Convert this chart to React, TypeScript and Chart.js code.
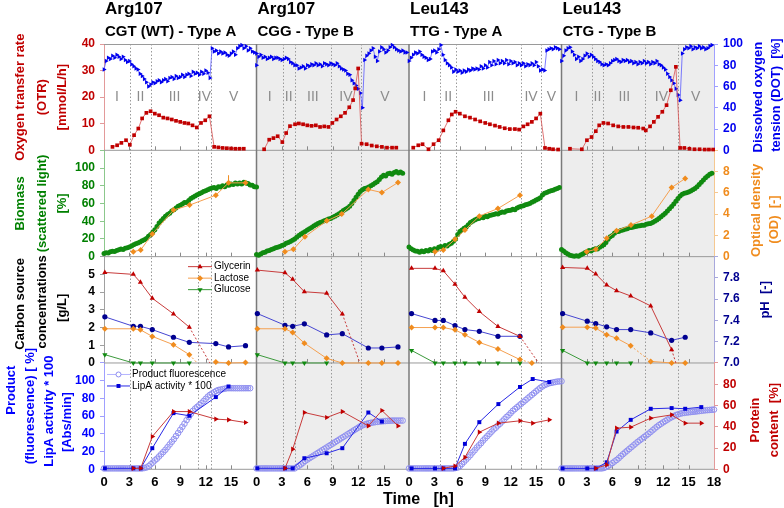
import React, { useEffect, useRef } from 'react';
import { Chart, registerables } from 'chart.js';
import { drawPoint } from 'chart.js/helpers';

Chart.register(...registerables);

type Pair = [number, number];

const FONT = 'Arial, "Liberation Sans", Helvetica, sans-serif';

/* ---------------- column headers & fermentation phases ---------------- */
const strainNames = ['Arg107', 'Arg107', 'Leu143', 'Leu143'];
const codonLabels = ['CGT (WT) - Type A', 'CGG - Type B', 'TTG - Type A', 'CTG - Type B'];
const phaseNames = ['I', 'II', 'III', 'IV', 'V'];
const phaseBounds_argCGT = [3.05, 5.55, 11.1, 12.6];
const phaseBounds_argCGG = [3.1, 4.5, 8.8, 12.3];
const phaseBounds_leuTTG = [3.65, 5.6, 13.2, 15.6];
const phaseBounds_leuCTG = [3.55, 4.95, 9.9, 13.7];
const shadedColumns = [1, 3];

/* ---------------- time axis ---------------- */
const timeMin = 0;
const timeMax = 18;
const timeStep = 3;
const innerTickTimes = [3, 6, 9, 12, 15];

/* online signals are logged every DENSE_STEP hours starting at t = 0 */
const DENSE_STEP = 0.25;

/* ---------------- Row 1: OTR [mmol/L/h] (time, value) ---------------- */
const otr_argCGT: Pair[] = [[1.0,1.3],[1.55,1.9],[2.05,2.8],[2.6,3.8],[3.05,2.1],[3.55,5.7],[4.05,8.2],[4.5,12.0],[5.0,14.1],[5.5,14.7],[6.0,13.8],[6.5,13.2],[7.0,12.3],[7.5,12.0],[8.0,11.6],[8.5,11.1],[9.0,10.7],[9.5,10.3],[9.95,10.1],[10.45,9.4],[10.95,8.6],[11.45,10.3],[11.95,11.3],[12.45,12.8],[13.0,1.3],[13.5,1.1],[14.0,0.9],[14.5,0.8],[15.0,0.7],[15.5,0.6],[16.0,0.6],[16.5,0.6]];
const otr_argCGG: Pair[] = [[0.9,0.4],[1.5,4.0],[2.0,4.6],[2.5,5.3],[3.05,3.1],[3.5,6.5],[3.95,9.1],[4.55,9.8],[5.0,10.1],[5.5,9.8],[6.0,9.4],[6.5,9.2],[7.0,9.4],[7.5,8.8],[8.0,9.0],[8.5,8.8],[8.95,10.3],[9.45,11.6],[9.95,12.8],[10.45,14.1],[10.95,16.2],[11.4,18.9],[11.65,23.3],[12.0,30.8],[12.4,2.5],[13.0,2.3],[13.6,1.8],[14.2,1.5],[14.8,1.3],[15.4,1.0],[16.0,1.0],[16.5,1.0]];
const otr_leuTTG: Pair[] = [[0.5,1.0],[1.1,1.9],[1.6,2.3],[2.3,0.4],[2.9,2.3],[3.5,3.8],[4.05,7.5],[4.65,11.3],[5.05,13.5],[5.5,14.5],[6.0,13.8],[6.6,12.8],[7.2,12.3],[7.8,11.6],[8.4,10.9],[9.0,10.3],[9.55,9.8],[10.15,9.3],[10.7,8.8],[11.3,8.3],[11.9,8.0],[12.5,8.0],[13.0,7.8],[13.5,9.0],[14.0,9.8],[14.5,10.7],[15.0,12.0],[15.5,13.8],[16.05,0.9],[16.55,0.6],[17.0,0.4],[17.6,0.3]];
const otr_leuCTG: Pair[] = [[1.0,0.6],[2.4,0.4],[3.0,3.8],[3.55,5.0],[4.05,7.2],[4.45,9.4],[4.95,10.3],[5.5,10.1],[6.1,9.4],[6.7,9.0],[7.3,8.8],[7.9,8.8],[8.5,8.6],[9.05,8.5],[9.65,8.2],[9.95,7.5],[10.45,9.0],[10.9,10.7],[11.4,12.6],[11.9,14.5],[12.4,17.0],[12.9,22.6],[13.5,31.4],[14.0,0.9],[14.5,0.9],[15.1,0.6],[15.7,0.4],[16.3,0.4],[16.9,0.3],[17.4,0.3],[17.9,0.3]];

/* ---------------- Row 1: DOT [%] (every DENSE_STEP h) ---------------- */
const dot_argCGT = [76,84,87,86,89,87,90,88,86,88,85,83,84,81,79,77,76,72,70,67,64,60,62,64,63,65,66,64,66,67,65,68,69,67,70,68,69,71,69,71,72,70,74,72,73,71,74,72,75,73,68,96,93,94,91,93,91,92,90,89,91,93,90,96,98,99,96,98,94,96,93,92,91];
const dot_argCGG = [80,88,90,87,88,86,87,88,86,87,87,86,85,86,87,86,83,82,80,80,77,78,79,77,80,79,81,80,82,80,81,79,82,81,80,82,81,80,82,79,77,76,75,72,71,66,63,61,58,54,40,85,89,91,94,96,88,84,93,97,95,92,94,97,99,97,95,94,93,94,92,92];
const dot_leuTTG = [84,87,90,92,91,93,90,88,87,85,86,93,94,92,95,99,90,85,82,80,78,74,76,74,75,73,75,74,76,75,77,76,77,76,79,77,80,78,83,80,84,81,85,82,84,82,85,81,84,82,83,80,82,80,82,79,81,80,82,80,83,79,75,76,75,94,95,96,95,97,96,95];
const dot_leuCTG = [84,89,94,96,97,93,90,86,88,84,86,89,91,88,90,88,86,84,83,81,80,81,80,82,84,85,86,84,83,85,84,85,83,84,82,83,81,83,82,84,82,83,81,83,82,84,81,80,78,76,72,69,66,63,58,52,47,91,95,97,96,98,95,97,96,98,96,97,95,96,98,99];

/* ---------------- Row 2: biomass / scattered light [%] (every DENSE_STEP h) ---------------- */
const biomass_argCGT = [3.5,4.5,4.0,5.5,6.0,5.8,7.0,7.8,8.5,8.2,9.5,10.0,11.0,12.0,13.5,14.5,15.5,16.5,18.0,19.0,20.5,23.0,25.0,27.5,30.5,34.0,38.0,40.5,43.0,45.5,47.5,49.0,51.5,53.0,55.0,57.0,58.0,59.5,61.0,61.0,63.5,65.5,67.0,68.5,70.0,71.0,72.0,73.5,74.5,75.5,76.5,77.5,78.0,77.0,79.0,78.5,80.0,79.0,81.0,80.5,82.0,81.5,83.0,82.0,83.0,82.0,84.0,83.0,82.5,81.0,80.5,79.0,78.5];
const biomass_argCGG = [2.5,1.5,3.0,4.5,5.0,6.5,7.0,8.0,9.0,10.0,10.5,11.5,12.5,13.5,15.0,16.0,17.0,18.5,20.0,22.0,24.0,25.5,27.0,28.5,30.0,31.5,33.0,34.5,36.0,37.5,38.5,39.5,40.5,41.5,42.5,43.0,44.5,45.5,47.0,48.5,50.0,52.0,53.5,55.0,57.0,60.0,63.5,67.0,70.5,73.5,75.5,77.0,77.5,78.5,80.0,81.5,83.0,84.5,87.0,90.0,92.0,91.0,93.5,94.0,93.0,95.0,96.0,94.5,95.5,94.0];
const biomass_leuTTG = [11.0,9.0,7.5,6.5,6.0,5.0,6.5,5.5,7.0,6.5,8.0,7.0,9.0,8.0,10.5,11.5,10.5,12.5,12.0,14.0,15.0,17.5,20.0,25.0,28.5,30.0,32.0,33.5,36.0,38.5,40.0,41.5,42.5,43.0,44.5,44.0,45.5,45.0,46.5,47.0,47.5,48.5,48.0,49.5,50.5,50.0,51.5,52.0,52.5,53.5,53.0,55.0,56.0,57.0,57.5,58.5,59.0,60.0,61.5,62.5,64.0,65.0,66.5,69.5,71.5,72.5,73.5,74.5,75.0,76.0,77.0,78.0];
const biomass_leuCTG = [8.0,6.5,4.5,3.0,1.5,1.0,0.5,1.0,0.5,2.0,3.0,4.5,5.5,7.0,6.5,8.0,9.0,8.5,10.5,12.0,13.5,16.0,19.5,22.5,24.0,26.5,28.0,28.5,29.5,30.0,31.0,31.5,32.5,33.0,33.5,34.0,34.5,35.0,35.5,35.5,36.5,37.0,37.5,38.5,40.0,41.5,43.0,45.0,47.0,49.0,51.5,54.0,56.5,59.5,62.5,65.5,68.5,70.5,71.5,72.0,73.0,74.0,75.5,77.0,79.0,81.5,84.0,86.5,89.0,91.0,93.0,94.0];

/* ---------------- Row 2: optical density [-] (time, value) ---------------- */
const od_argCGT: Pair[] = [[3.46,0.47],[4.33,0.63],[5.7,2.13],[8.2,4.38],[10.1,4.85],[13.2,5.78],[14.7,6.94],[16.7,6.94]];
const odErr_argCGT: Pair[] = [[14.7,6.94],[14.7,7.66]];
const od_argCGG: Pair[] = [[3.36,0.47],[4.35,0.69],[5.72,1.88],[8.3,3.37],[10.06,4.0],[13.2,6.32],[14.8,6.03],[16.7,6.97]];
const od_leuTTG: Pair[] = [[3.07,0.47],[4.05,0.63],[5.43,1.63],[6.6,2.5],[8.3,3.81],[10.5,4.53],[13.1,5.78]];
const od_leuCTG: Pair[] = [[2.97,0.47],[4.04,0.69],[5.33,1.72],[6.5,2.44],[8.2,2.97],[10.65,3.81],[13.0,6.5],[14.6,7.35]];

/* ---------------- Row 3: carbon sources [g/L] and pH (time, value) ---------------- */
const glycerin_argCGT: Pair[] = [[0.1,5.11],[3.46,5.0],[4.3,4.55],[5.7,3.65],[8.2,2.77],[10.07,2.02]];
const glycerinTail_argCGT: Pair[] = [[10.07,2.02],[12.5,0]];
const lactose_argCGT: Pair[] = [[0.1,1.93],[3.46,1.93],[4.3,1.87],[5.7,1.5],[8.2,1.03],[10.07,0.47]];
const lactoseTail_argCGT: Pair[] = [[10.07,0.47],[11.0,0]];
const lactoseLate_argCGT: Pair[] = [[13.2,0.05],[14.7,0],[16.7,0.02]];
const glucose_argCGT: Pair[] = [[0.1,0.47],[3.46,0],[4.3,0],[5.7,0],[8.2,0],[10.07,0]];
const pH_argCGT: Pair[] = [[0.1,7.434],[3.46,7.345],[4.3,7.345],[5.7,7.314],[8.2,7.242],[10.07,7.194],[13.2,7.182],[14.7,7.151],[16.7,7.163]];

const glycerin_argCGG: Pair[] = [[0.1,5.24],[3.36,5.09],[4.27,4.72],[5.65,4.02],[8.28,3.93],[10.13,2.77]];
const glycerinTail_argCGG: Pair[] = [[10.13,2.77],[12.2,0]];
const lactose_argCGG: Pair[] = [[0.1,1.93],[3.36,1.93],[4.27,1.72],[5.65,1.12],[8.28,0.26],[10.13,0],[13.2,0],[14.8,0],[16.7,0]];
const lactoseTail_argCGG: Pair[] = [];
const lactoseLate_argCGG: Pair[] = [];
const glucose_argCGG: Pair[] = [[0.1,0.47],[3.36,0],[4.27,0],[5.65,0],[8.28,0]];
const pH_argCGG: Pair[] = [[0.1,7.465],[3.36,7.355],[4.27,7.345],[5.65,7.368],[8.28,7.264],[10.13,7.276],[13.2,7.141],[14.8,7.141],[16.7,7.151]];

const glycerin_leuTTG: Pair[] = [[0.3,5.34],[3.07,5.34],[4.05,5.2],[5.43,4.44],[6.6,3.71],[8.3,2.9],[10.5,2.06],[13.1,1.5]];
const glycerinTail_leuTTG: Pair[] = [[13.1,1.5],[15.3,0]];
const lactose_leuTTG: Pair[] = [[0.3,2.0],[3.07,2.0],[4.05,2.0],[5.43,1.87],[6.6,1.59],[8.3,1.16],[10.5,0.79],[13.1,0.19]];
const lactoseTail_leuTTG: Pair[] = [[13.1,0.19],[14.5,0]];
const lactoseLate_leuTTG: Pair[] = [[14.5,0]];
const glucose_leuTTG: Pair[] = [[0.3,0.71],[3.07,0],[4.05,0],[5.43,0],[6.6,0],[8.3,0],[10.5,0],[13.1,0]];
const pH_leuTTG: Pair[] = [[0.3,7.465],[3.07,7.40],[4.05,7.40],[5.43,7.352],[6.6,7.314],[8.3,7.298],[10.5,7.251],[13.1,7.251]];

const glycerin_leuCTG: Pair[] = [[0.13,5.39],[3.04,5.34],[4.04,5.02],[5.33,4.4],[6.5,4.08],[8.17,3.78],[10.53,3.22],[13.0,0.75]];
const glycerinTail_leuCTG: Pair[] = [[13.0,0.75],[13.5,0]];
const lactose_leuCTG: Pair[] = [[0.13,2.02],[3.04,2.02],[4.04,1.97],[5.33,1.59],[6.5,1.4],[8.17,0.97]];
const lactoseTail_leuCTG: Pair[] = [[8.17,0.97],[10.53,0.09]];
const lactoseLate_leuCTG: Pair[] = [[10.53,0.09],[13.0,0],[14.6,0]];
const glucose_leuCTG: Pair[] = [[0.13,0.71],[3.04,0],[4.04,0],[5.33,0],[6.5,0],[8.17,0]];
const pH_leuCTG: Pair[] = [[0.13,7.465],[3.04,7.393],[4.04,7.371],[5.33,7.34],[6.5,7.314],[8.17,7.314],[10.53,7.283],[13.0,7.213],[14.6,7.242]];

/* ---------------- Row 4: product fluorescence [%] (every DENSE_STEP h) ---------------- */
const fluor_argCGT = [1,1,1,1,1,1,1,1,1,1,1,1,1,1,1,1,1,1,1,1.5,2.0,3.5,5.5,7.5,10.0,12.0,14.5,17.0,19.5,22.0,25.0,28.0,31.0,34.0,37.5,41.0,44.5,48.0,51.5,55.5,59.0,62.5,66.0,68.5,70.5,72.5,74.5,77.0,79.5,82.0,84.0,85.5,87.0,88.5,89.5,90.0,90.5,91.0,91.5,91.5,91.5,91.5,91.5,91.5,91.5,91.5,91.5,91.5,91.5,91.5];
const fluor_argCGG = [1,1,1,1,1,1,1,1,1,1,1,1,1,1,1,1,1,1,1,2.5,4.0,5.5,7.5,9.5,11.0,12.5,14.0,15.5,17.0,18.5,20.0,21.5,23.0,24.5,26.0,27.5,29.0,30.5,32.0,33.5,35.0,36.5,38.0,39.5,41.0,42.5,44.0,45.5,47.0,48.5,49.5,50.5,51.3,52.0,52.5,52.8,53.2,53.5,53.8,54.0,54.3,54.5,54.7,54.8,55.0,55.0,55.0,55.0,55.0,55.0];
const fluor_leuTTG = [1,1,1,1,1,1,1,1,1,1,1,1,1,1,1,1,1,1,1,1,1,1,1.5,2.0,3.5,6.0,8.5,11.0,13.5,16.0,19.0,21.5,24.5,27.0,29.5,32.5,35.0,37.5,40.0,42.5,45.0,47.0,49.5,51.5,54.0,56.5,59.0,61.0,63.5,66.0,68.0,70.0,72.0,74.0,76.0,78.0,80.0,82.0,84.0,86.0,88.0,90.0,92.0,93.5,95.0,96.0,97.0,97.5,98.0,98.5,99.0,99.2,99.4];
const fluor_leuCTG = [1,1,1,1,1,1,1,1,1,1,1,1,1,1,1,1,1,1,1,1,1.5,2.5,3.8,5.2,7.0,8.8,10.5,12.5,14.8,17.0,19.0,21.0,23.0,25.0,27.0,29.0,31.0,32.8,34.6,36.4,38.2,40.0,42.0,44.0,46.0,48.0,49.8,51.4,53.0,54.5,56.0,57.5,58.8,60.0,61.2,62.0,62.8,63.3,63.7,64.0,64.3,64.6,64.9,65.1,65.4,65.7,66.0,66.3,66.6,66.8,67.0,67.2,67.4];

/* ---------------- Row 4: LipA activity * 100 [Abs/min] and protein content [%] ---------------- */
const lipA_argCGT: Pair[] = [[0.1,1.1],[3.46,1.1],[4.33,1.1],[5.7,23.8],[8.2,63.4],[10.07,60.4],[13.2,81.5],[14.7,93.5]];
const protein_argCGT: Pair[] = [[3.46,0.9],[4.33,0.9],[5.7,30.8],[8.2,54.3],[10.07,54.3],[13.2,47.2],[14.7,46.5],[16.7,44]];
const lipA_argCGG: Pair[] = [[0.1,1.1],[3.36,1.1],[4.27,1.1],[5.65,12.5],[8.28,18.1],[10.13,23.8],[13.2,64.1],[14.8,53.9]];
const protein_argCGG: Pair[] = [[3.36,0.9],[4.27,18.9],[5.65,53.4],[8.28,48.7],[10.13,54.3],[13.2,40.8],[14.8,55.3],[16.7,40.8]];
const lipA_leuTTG: Pair[] = [[0.3,1],[3.07,1],[4.05,1],[5.43,1.1],[6.6,28.7],[8.3,53.2],[10.55,73.6],[13.1,92.9],[14.6,101.9],[16.56,98.5]];
const protein_leuTTG: Pair[] = [[4.05,0.9],[5.43,3.1],[6.6,11.3],[8.3,34.9],[10.55,43.4],[13.1,45.6],[14.6,43.4],[16.56,46.5]];
const lipA_leuCTG: Pair[] = [[0.13,1],[3.04,1],[4.04,1],[5.33,7.9],[6.5,42.6],[8.17,55.8],[10.53,68.3],[13.0,69.1],[14.6,68.3],[16.5,70.2]];
const protein_leuCTG: Pair[] = [[4.04,0.9],[5.33,4.1],[6.5,38.7],[8.17,39.6],[10.53,48.1],[13.0,51.2],[14.6,43.4],[16.5,43.4]];

/* ---------------- assembling tables for the library ---------------- */
const columns = [
  { phases: phaseBounds_argCGT, otr: otr_argCGT, dot: dot_argCGT, bio: biomass_argCGT, od: od_argCGT, odErr: odErr_argCGT, gly: glycerin_argCGT, glyTail: glycerinTail_argCGT, lac: lactose_argCGT, lacTail: lactoseTail_argCGT, lacLate: lactoseLate_argCGT, glu: glucose_argCGT, ph: pH_argCGT, fl: fluor_argCGT, lip: lipA_argCGT, prot: protein_argCGT },
  { phases: phaseBounds_argCGG, otr: otr_argCGG, dot: dot_argCGG, bio: biomass_argCGG, od: od_argCGG, odErr: [] as Pair[], gly: glycerin_argCGG, glyTail: glycerinTail_argCGG, lac: lactose_argCGG, lacTail: lactoseTail_argCGG, lacLate: lactoseLate_argCGG, glu: glucose_argCGG, ph: pH_argCGG, fl: fluor_argCGG, lip: lipA_argCGG, prot: protein_argCGG },
  { phases: phaseBounds_leuTTG, otr: otr_leuTTG, dot: dot_leuTTG, bio: biomass_leuTTG, od: od_leuTTG, odErr: [] as Pair[], gly: glycerin_leuTTG, glyTail: glycerinTail_leuTTG, lac: lactose_leuTTG, lacTail: lactoseTail_leuTTG, lacLate: lactoseLate_leuTTG, glu: glucose_leuTTG, ph: pH_leuTTG, fl: fluor_leuTTG, lip: lipA_leuTTG, prot: protein_leuTTG },
  { phases: phaseBounds_leuCTG, otr: otr_leuCTG, dot: dot_leuCTG, bio: biomass_leuCTG, od: od_leuCTG, odErr: [] as Pair[], gly: glycerin_leuCTG, glyTail: glycerinTail_leuCTG, lac: lactose_leuCTG, lacTail: lactoseTail_leuCTG, lacLate: lactoseLate_leuCTG, glu: glucose_leuCTG, ph: pH_leuCTG, fl: fluor_leuCTG, lip: lipA_leuCTG, prot: protein_leuCTG },
];

const fromPairs = (p: Pair[]) => p.map(([x, y]) => ({ x, y }));
const fromGrid = (v: number[]) => v.map((y, i) => ({ x: i * DENSE_STEP, y }));

/* ---------------- colours ---------------- */
const RED = '#c00000';
const BLUE = '#0000ee';
const GREEN = '#108a10';
const ORANGE = '#f08c1e';
const NAVY = '#000090';

const sOtr = { borderColor: '#d85050', borderWidth: 0.8, pointStyle: 'rect', pointRadius: 2.6, pointBackgroundColor: RED, pointBorderColor: RED, pointBorderWidth: 0 };
const sDot = { borderColor: '#5a5aff', borderWidth: 0.8, pointStyle: 'triangle', pointRotation: 90, pointRadius: 2.6, pointBackgroundColor: BLUE, pointBorderColor: BLUE, pointBorderWidth: 0 };
const sBio = { borderColor: '#1e901e', borderWidth: 2, pointStyle: 'circle', pointRadius: 2.5, pointBackgroundColor: GREEN, pointBorderColor: GREEN, pointBorderWidth: 0 };
const sOd = { borderColor: '#f5a050', borderWidth: 1, pointStyle: 'rectRot', pointRadius: 3, pointBackgroundColor: ORANGE, pointBorderColor: ORANGE, pointBorderWidth: 0 };
const sOdErr = { borderColor: ORANGE, borderWidth: 1, pointRadius: 0 };
const sGly = { borderColor: '#c83c3c', borderWidth: 1, pointStyle: 'triangle', pointRadius: 3, pointBackgroundColor: RED, pointBorderColor: RED, pointBorderWidth: 0 };
const sGlyTail = { borderColor: '#c83c3c', borderWidth: 1, borderDash: [2, 2], pointRadius: 0 };
const sLac = { borderColor: '#f5a050', borderWidth: 1, pointStyle: 'rectRot', pointRadius: 3, pointBackgroundColor: ORANGE, pointBorderColor: ORANGE, pointBorderWidth: 0 };
const sLacTail = { borderColor: '#f5a050', borderWidth: 1, borderDash: [2, 2], pointRadius: 0 };
const sGlu = { borderColor: '#3c9a3c', borderWidth: 1, pointStyle: 'triangle', pointRotation: 180, pointRadius: 3, pointBackgroundColor: GREEN, pointBorderColor: GREEN, pointBorderWidth: 0 };
const sPh = { borderColor: '#4646d2', borderWidth: 1, pointStyle: 'circle', pointRadius: 2.6, pointBackgroundColor: NAVY, pointBorderColor: NAVY, pointBorderWidth: 0 };
const sFl = { borderColor: '#b4b4ff', borderWidth: 1, pointStyle: 'circle', pointRadius: 2.8, pointBackgroundColor: 'rgba(255,255,255,0)', pointBorderColor: '#9090f0', pointBorderWidth: 1 };
const sLip = { borderColor: '#2828e6', borderWidth: 1, pointStyle: 'rect', pointRadius: 2.8, pointBackgroundColor: '#0000d8', pointBorderColor: '#0000d8', pointBorderWidth: 0 };
const sProt = { borderColor: '#c83c3c', borderWidth: 1, pointStyle: 'triangle', pointRotation: 90, pointRadius: 3, pointBackgroundColor: RED, pointBorderColor: RED, pointBorderWidth: 0 };

/* ---------------- axes ---------------- */
function xAxis(c: number) {
  return {
    type: 'linear', position: 'bottom', stack: 'time', stackWeight: 1, weight: c,
    min: timeMin, max: timeMax,
    ticks: {
      stepSize: timeStep, autoSkip: false, maxRotation: 0, padding: 5, color: '#000',
      font: { family: FONT, size: 13, weight: 'bold' },
      callback: (v: number) => (v === timeMax && c < 3 ? '' : String(v)),
    },
    grid: { display: false, drawTicks: false },
    border: { display: false },
    afterFit: (s: any) => { s.height = 22; },
  };
}

function yAxis(pos: string, row: number, min: number, max: number, step: number, color: string, line: string, digits: number, hideTop: boolean) {
  return {
    type: 'linear', position: pos, stack: pos, stackWeight: 1,
    weight: pos === 'left' ? 3 - row : row,
    min, max,
    ticks: {
      stepSize: step, autoSkip: false, color, padding: 5,
      font: { family: FONT, size: 12, weight: 'bold' },
      callback: (v: number) => (hideTop && Math.abs(v - max) < 1e-6 ? '' : Number(v).toFixed(digits)),
    },
    grid: { drawOnChartArea: false, drawTicks: true, tickLength: 4, color: line, lineWidth: 1 },
    border: { display: true, color: line, width: 1 },
    afterFit: (s: any) => { s.width = 40; },
  };
}

const LEFT_IDS = ['otr', 'bio', 'carb', 'prod'];
const RIGHT_IDS = ['dot', 'od', 'ph', 'prot'];

/* ---------------- text layout ---------------- */
const TITLE_FONT = `bold 13px ${FONT}`;
const leftTitles = [
  { lines: ['Oxygen transfer rate', '(OTR)', '[mmol/L/h]'], xs: [20, 42, 62], dy: [0, 0, 0], color: RED },
  { lines: ['Biomass', '(scattered light)', '[%]'], xs: [20, 42, 62], dy: [0, 0, 0], color: '#008000' },
  { lines: ['Carbon source', 'concentrations', '[g/L]'], xs: [20, 42, 62], dy: [-6, -8, -2], color: '#000' },
  { lines: ['Product', '(fluorescence) [ %]', 'LipA activity * 100', '[Abs/min]'], xs: [11, 30, 49, 67], dy: [-26, -10, -5, 6], color: '#0000ff' },
];
const rightTitles = [
  { lines: ['Dissolved oxygen', 'tension (DOT)  [%]'], xs: [758, 776], dy: [0, -2], color: BLUE },
  { lines: ['Optical density', '(OD)  [-]'], xs: [756, 774], dy: [7, 16], color: ORANGE },
  { lines: ['pH  [-]'], xs: [765], dy: [-10], color: NAVY },
  { lines: ['Protein', 'content  [%]'], xs: [755, 774], dy: [4, 4], color: RED },
];

function vText(ctx: any, text: string, x: number, y: number, font: string, color: string) {
  ctx.save();
  ctx.translate(x, y);
  ctx.rotate(-Math.PI / 2);
  ctx.font = font;
  ctx.fillStyle = color;
  ctx.textAlign = 'center';
  ctx.textBaseline = 'middle';
  ctx.fillText(text, 0, 0);
  ctx.restore();
}

function legendItem(ctx: any, x0: number, x1: number, y: number, lineColor: string, marker: any, label: string) {
  ctx.save();
  ctx.strokeStyle = lineColor;
  ctx.lineWidth = 1;
  ctx.beginPath();
  ctx.moveTo(x0, y);
  ctx.lineTo(x1, y);
  ctx.stroke();
  ctx.fillStyle = marker.fill;
  ctx.strokeStyle = marker.stroke;
  ctx.lineWidth = marker.borderWidth || 0.01;
  drawPoint(ctx, { pointStyle: marker.style, radius: marker.radius, rotation: marker.rotation || 0, borderWidth: marker.borderWidth || 0 }, (x0 + x1) / 2, y);
  ctx.fillStyle = '#000';
  ctx.font = `10px ${FONT}`;
  ctx.textAlign = 'left';
  ctx.textBaseline = 'middle';
  ctx.fillText(label, x1 + 2, y);
  ctx.restore();
}

const panelsPlugin = {
  id: 'panels',
  beforeDraw(chart: any) {
    const { ctx, chartArea: a } = chart;
    ctx.save();
    ctx.fillStyle = '#fff';
    ctx.fillRect(0, 0, chart.width, chart.height);
    shadedColumns.forEach((c) => {
      const s = chart.scales['x' + c];
      ctx.fillStyle = '#ededed';
      ctx.fillRect(s.left, a.top, s.right - s.left, a.bottom - a.top);
    });
    ctx.restore();
  },
  beforeDatasetsDraw(chart: any) {
    const { ctx, chartArea: a } = chart;
    const rows = LEFT_IDS.map((id) => chart.scales[id]);
    const seg = (x0: number, y0: number, x1: number, y1: number) => {
      ctx.beginPath(); ctx.moveTo(x0, y0); ctx.lineTo(x1, y1); ctx.stroke();
    };
    ctx.save();
    ctx.strokeStyle = '#9a9a9a';
    ctx.lineWidth = 1;
    ctx.setLineDash([1.5, 2]);
    columns.forEach((col, c) => {
      const s = chart.scales['x' + c];
      col.phases.forEach((t) => {
        const x = Math.round(s.getPixelForValue(t)) + 0.5;
        seg(x, a.top, x, a.bottom);
      });
    });
    ctx.setLineDash([]);
    ctx.strokeStyle = '#8a8a8a';
    rows.forEach((r) => {
      columns.forEach((_, c) => {
        const s = chart.scales['x' + c];
        innerTickTimes.forEach((t) => {
          const x = Math.round(s.getPixelForValue(t)) + 0.5;
          seg(x, r.bottom, x, r.bottom - 4);
        });
      });
    });
    ctx.strokeStyle = '#9a9a9a';
    seg(a.left, a.top + 0.5, a.right, a.top + 0.5);
    rows.forEach((r) => seg(a.left, r.bottom, a.right, r.bottom));
    ctx.strokeStyle = '#7a7a7a';
    ctx.lineWidth = 1.5;
    for (let c = 0; c < 3; c++) {
      const x = chart.scales['x' + c].right;
      seg(x, a.top, x, a.bottom);
    }
    const r0 = rows[0];
    const yMid = (r0.top + r0.bottom) / 2;
    ctx.fillStyle = '#8c8c8c';
    ctx.font = `14px ${FONT}`;
    ctx.textAlign = 'center';
    ctx.textBaseline = 'middle';
    columns.forEach((col, c) => {
      const s = chart.scales['x' + c];
      const edges = [timeMin, ...col.phases, timeMax];
      phaseNames.forEach((n, i) => {
        ctx.fillText(n, s.getPixelForValue((edges[i] + edges[i + 1]) / 2), yMid);
      });
    });
    ctx.restore();
  },
  afterDraw(chart: any) {
    const { ctx } = chart;
    ctx.save();
    for (let c = 0; c < 4; c++) {
      const s = chart.scales['x' + c];
      ctx.fillStyle = '#000';
      ctx.textAlign = 'left';
      ctx.textBaseline = 'alphabetic';
      ctx.font = `bold 17px ${FONT}`;
      ctx.fillText(strainNames[c], s.left + 1, 14);
      ctx.font = `bold 15px ${FONT}`;
      ctx.fillText(codonLabels[c], s.left + 1, 36);
    }
    leftTitles.forEach((t, r) => {
      const s = chart.scales[LEFT_IDS[r]];
      const yc = (s.top + s.bottom) / 2;
      t.lines.forEach((line, i) => vText(ctx, line, t.xs[i], yc + t.dy[i], TITLE_FONT, t.color));
    });
    rightTitles.forEach((t, r) => {
      const s = chart.scales[RIGHT_IDS[r]];
      const yc = (s.top + s.bottom) / 2;
      t.lines.forEach((line, i) => vText(ctx, line, t.xs[i], yc + t.dy[i], TITLE_FONT, t.color));
    });
    const xb = chart.scales.x0;
    ctx.fillStyle = '#000';
    ctx.font = `bold 16px ${FONT}`;
    ctx.textAlign = 'left';
    ctx.textBaseline = 'alphabetic';
    ctx.fillText('Time   [h]', 383, 504);
    const x0 = xb.left;
    const carb = chart.scales.carb;
    const prod = chart.scales.prod;
    legendItem(ctx, x0 + 84, x0 + 108, carb.top + 10, '#c83c3c', { style: 'triangle', radius: 3, fill: RED, stroke: RED }, 'Glycerin');
    legendItem(ctx, x0 + 84, x0 + 108, carb.top + 21.5, '#f5a050', { style: 'rectRot', radius: 3, fill: ORANGE, stroke: ORANGE }, 'Lactose');
    legendItem(ctx, x0 + 84, x0 + 108, carb.top + 33, '#3c9a3c', { style: 'triangle', radius: 3, rotation: 180, fill: GREEN, stroke: GREEN }, 'Glucose');
    legendItem(ctx, x0 + 3, x0 + 26, prod.top + 11.5, '#b4b4ff', { style: 'circle', radius: 2.5, fill: '#fff', stroke: '#8c8cf0', borderWidth: 1 }, 'Product fluorescence');
    legendItem(ctx, x0 + 3, x0 + 26, prod.top + 23, '#2828e6', { style: 'rect', radius: 2.8, fill: '#0000d8', stroke: '#0000d8' }, 'LipA activity * 100');
    ctx.restore();
  },
};

function buildChart(canvas: HTMLCanvasElement) {
  const datasets: any[] = [];
  const add = (data: any[], c: number, yAxisID: string, style: any) => {
    if (!data.length) return;
    datasets.push({ data, xAxisID: 'x' + c, yAxisID, clip: false, tension: 0, fill: false, ...style });
  };
  columns.forEach((col, c) => {
    add(fromPairs(col.otr), c, 'otr', sOtr);
    add(fromGrid(col.dot), c, 'dot', sDot);
    add(fromPairs(col.od), c, 'od', sOd);
    add(fromPairs(col.odErr), c, 'od', sOdErr);
    add(fromGrid(col.bio), c, 'bio', sBio);
    add(fromPairs(col.gly), c, 'carb', sGly);
    add(fromPairs(col.glyTail), c, 'carb', sGlyTail);
    add(fromPairs(col.lac), c, 'carb', sLac);
    add(fromPairs(col.lacTail), c, 'carb', sLacTail);
    add(fromPairs(col.lacLate), c, 'carb', sLac);
    add(fromPairs(col.glu), c, 'carb', sGlu);
    add(fromPairs(col.ph), c, 'ph', sPh);
    add(fromPairs(col.prot), c, 'prot', sProt);
    add(fromPairs(col.lip), c, 'prod', sLip);
    add(fromGrid(col.fl), c, 'prod', sFl);
  });

  const scales: any = {
    x0: xAxis(0), x1: xAxis(1), x2: xAxis(2), x3: xAxis(3),
    otr: yAxis('left', 0, 0, 40, 10, RED, '#e39a9a', 0, false),
    bio: yAxis('left', 1, 0, 120, 20, '#008000', '#8cc88c', 0, true),
    carb: yAxis('left', 2, 0, 6, 1, '#000', '#a0a0a0', 0, true),
    prod: yAxis('left', 3, 0, 120, 20, '#0000ff', '#a0a0ff', 0, true),
    dot: yAxis('right', 0, 0, 100, 20, BLUE, '#a0a0ff', 0, false),
    od: yAxis('right', 1, 0, 10, 2, ORANGE, '#f5c891', 0, true),
    ph: yAxis('right', 2, 7, 8, 0.2, NAVY, '#a8a8dc', 1, true),
    prot: yAxis('right', 3, 0, 100, 20, RED, '#e39a9a', 0, true),
  };

  return new Chart(canvas, {
    type: 'line',
    data: { datasets },
    options: {
      responsive: false,
      maintainAspectRatio: false,
      devicePixelRatio: 1,
      animation: false,
      events: [],
      layout: { padding: { left: 64, right: 30, top: 44, bottom: 16.7 } },
      plugins: { legend: { display: false }, tooltip: { enabled: false } },
      scales,
    } as any,
    plugins: [panelsPlugin as any],
  });
}

export default function App() {
  const ref = useRef<HTMLCanvasElement>(null);
  useEffect(() => {
    const chart = buildChart(ref.current as HTMLCanvasElement);
    return () => chart.destroy();
  }, []);
  return (
    <div style={{ position: 'absolute', left: 0, top: 0, width: 784, height: 508, background: '#fff' }}>
      <canvas ref={ref} width={784} height={508} style={{ display: 'block', width: 784, height: 508 }} />
    </div>
  );
}
